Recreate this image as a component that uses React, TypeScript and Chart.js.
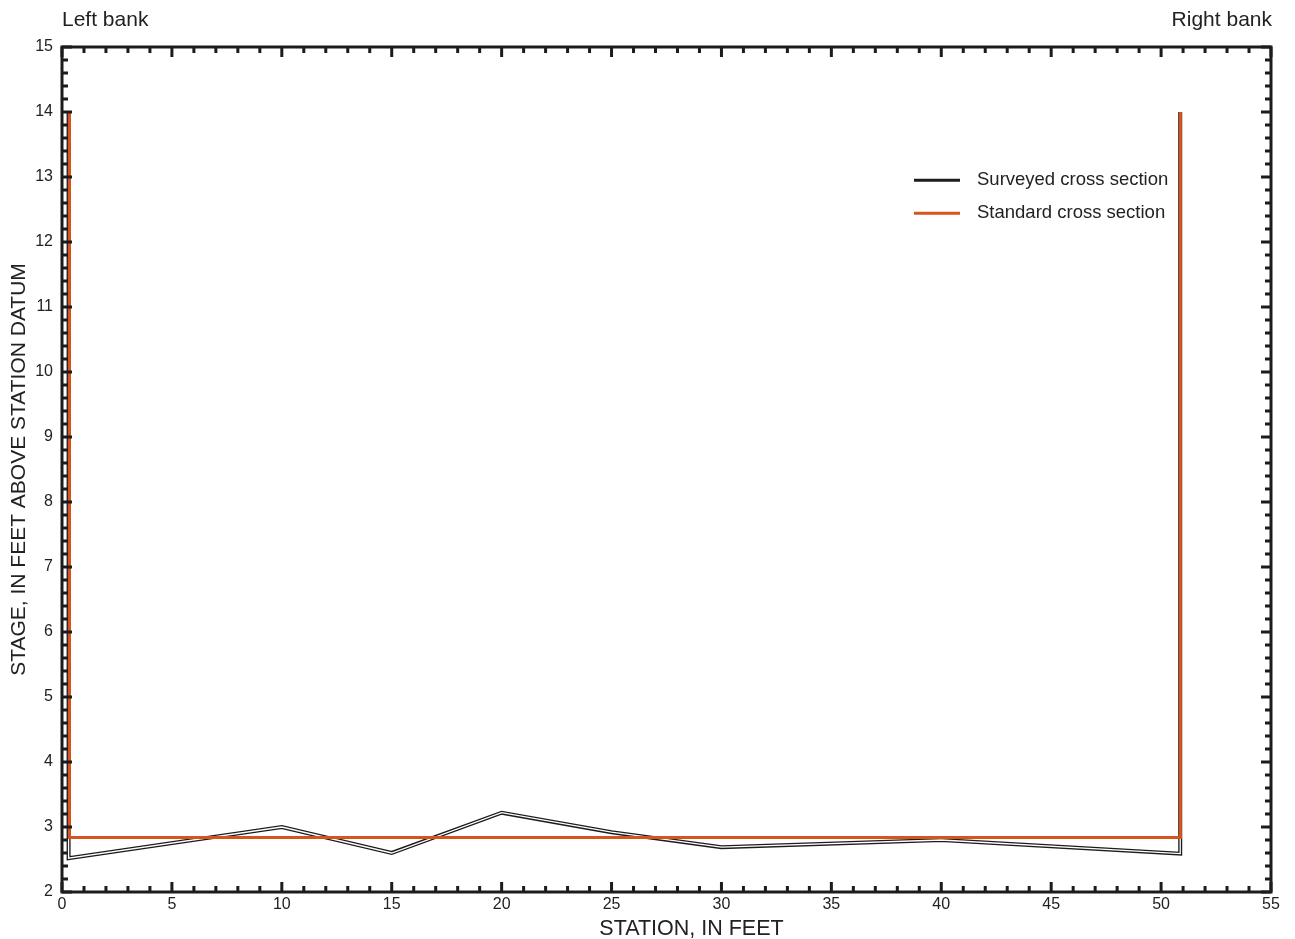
import React, { useEffect, useRef } from "react";
import { Chart, registerables } from "chart.js";

Chart.register(...registerables);

// Surveyed cross section (station ft, stage ft)
const surveyedStation = [0.3, 0.3, 10, 15, 20, 25, 30, 40, 50.87, 50.87];
const surveyedStage = [14, 2.52, 3.0, 2.6, 3.22, 2.92, 2.69, 2.8, 2.59, 14];

// Standard cross section
const standardStation = [0.34, 0.34, 50.88, 50.88];
const standardStage = [14, 2.84, 2.84, 14];

const xMin = 0, xMax = 55, xMajor = 5, xMinor = 1;
const yMin = 2, yMax = 15, yMajor = 1, yMinor = 0.2;

const seriesLabels = ["Surveyed cross section", "Standard cross section"];
const bankLabels = ["Left bank", "Right bank"];
const xTitle = "STATION, IN FEET";
const yTitle = "STAGE, IN FEET ABOVE STATION DATUM";

const BLACK = "#1c1c1c";
const ORANGE = "#d9531e";
const TEXT = "#222222";
const FONT = "Liberation Sans, Arial, Helvetica, sans-serif";

const toPts = (xs: number[], ys: number[]) => xs.map((x, i) => ({ x, y: ys[i] }));

const framePlugin = {
  id: "frameTicks",
  afterDraw(chart: any) {
    const { ctx, chartArea } = chart;
    const { left, right, top, bottom } = chartArea;
    const xs = chart.scales.x;
    const ys = chart.scales.y;
    ctx.save();
    ctx.strokeStyle = BLACK;
    ctx.lineWidth = 3;
    ctx.lineCap = "butt";
    const eps = 1e-6;
    for (let v = xMin; v <= xMax + eps; v += xMinor) {
      const px = xs.getPixelForValue(v);
      const major = Math.abs(v / xMajor - Math.round(v / xMajor)) < eps;
      const len = major ? 10 : 6;
      ctx.beginPath();
      ctx.moveTo(px, bottom);
      ctx.lineTo(px, bottom - len);
      ctx.moveTo(px, top);
      ctx.lineTo(px, top + len);
      ctx.stroke();
    }
    for (let v = yMin; v <= yMax + eps; v += yMinor) {
      const py = ys.getPixelForValue(v);
      const major = Math.abs(v / yMajor - Math.round(v / yMajor)) < eps;
      const len = major ? 10 : 6;
      ctx.beginPath();
      ctx.moveTo(left, py);
      ctx.lineTo(left + len, py);
      ctx.moveTo(right, py);
      ctx.lineTo(right - len, py);
      ctx.stroke();
    }
    ctx.lineWidth = 3;
    ctx.strokeRect(left, top, right - left, bottom - top);

    // bank labels
    ctx.fillStyle = TEXT;
    ctx.font = `21px ${FONT}`;
    ctx.textBaseline = "middle";
    ctx.textAlign = "left";
    ctx.fillText(bankLabels[0], left, top - 27);
    ctx.textAlign = "right";
    ctx.fillText(bankLabels[1], right + 1, top - 27);

    // x axis title
    ctx.font = `21.5px ${FONT}`;
    ctx.textAlign = "center";
    ctx.fillText(xTitle, (left + right) / 2 + 25, bottom + 37);

    // legend
    const legendItems = seriesLabels
      .map((lab) => chart.data.datasets.find((d: any) => d.label === lab))
      .filter(Boolean);
    const lx = 914;
    let ly = ys.getPixelForValue(12.95);
    ctx.font = `18.5px ${FONT}`;
    ctx.textAlign = "left";
    legendItems.forEach((d: any) => {
      ctx.strokeStyle = d.borderColor;
      ctx.lineWidth = 3;
      ctx.beginPath();
      ctx.moveTo(lx, ly);
      ctx.lineTo(lx + 46, ly);
      ctx.stroke();
      ctx.fillStyle = TEXT;
      ctx.fillText(d.label, lx + 63, ly);
      ly += 33;
    });
    ctx.restore();
  },
};

export default function App() {
  const ref = useRef<HTMLCanvasElement>(null);
  useEffect(() => {
    if (!ref.current) return;
    const chart = new Chart(ref.current, {
      type: "line",
      data: {
        datasets: [
          {
            label: seriesLabels[1],
            data: toPts(standardStation, standardStage),
            borderColor: ORANGE,
            borderWidth: 3,
            pointRadius: 0,
            tension: 0,
            order: 0,
          } as any,
          {
            label: "",
            data: toPts(surveyedStation, surveyedStage),
            borderColor: "#ffffff",
            borderWidth: 1.3,
            pointRadius: 0,
            tension: 0,
            order: 1,
          } as any,
          {
            label: seriesLabels[0],
            data: toPts(surveyedStation, surveyedStage),
            borderColor: BLACK,
            borderWidth: 4,
            pointRadius: 0,
            tension: 0,
            order: 2,
          } as any,
        ],
      },
      options: {
        responsive: false,
        animation: false,
        parsing: false as any,
        layout: { padding: { top: 47, right: 24, left: 0, bottom: 0 } },
        plugins: {
          legend: { display: false },
          tooltip: { enabled: false },
        },
        scales: {
          x: {
            type: "linear",
            min: xMin,
            max: xMax,
            grid: { display: false, drawTicks: false },
            border: { display: false },
            ticks: {
              stepSize: xMajor,
              color: TEXT,
              font: { family: FONT, size: 16 },
              padding: 3,
              maxRotation: 0,
            },
            title: { display: false, text: xTitle },
            afterFit: (s: any) => {
              s.height = 47;
            },
          },
          y: {
            type: "linear",
            min: yMin,
            max: yMax,
            grid: { display: false, drawTicks: false },
            border: { display: false },
            ticks: {
              stepSize: yMajor,
              color: TEXT,
              font: { family: FONT, size: 16 },
              padding: 9,
            },
            title: {
              display: true,
              text: yTitle,
              color: TEXT,
              font: { family: FONT, size: 21, lineHeight: 1 },
              padding: { top: 9, bottom: 0 },
            },
            afterFit: (s: any) => {
              s.width = 62;
            },
          },
        },
      },
      plugins: [framePlugin],
    });
    return () => chart.destroy();
  }, []);
  return (
    <div style={{ position: "absolute", left: 0, top: 0, width: 1295, height: 939, background: "#fff" }}>
      <canvas ref={ref} width={1295} height={939} />
    </div>
  );
}
